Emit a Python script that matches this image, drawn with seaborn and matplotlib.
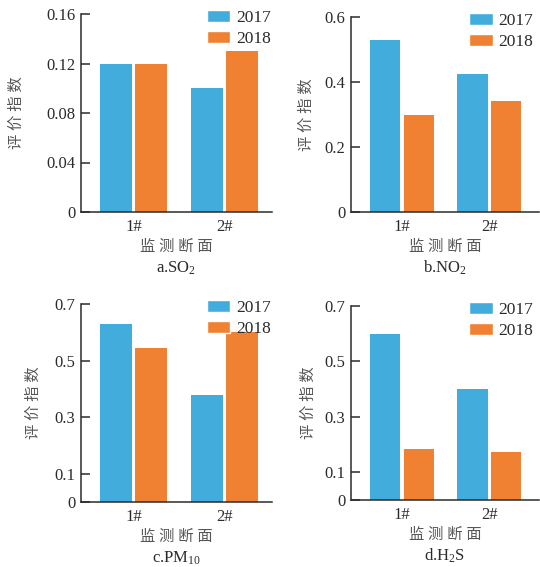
import matplotlib
matplotlib.use("Agg")
import matplotlib.pyplot as plt
from matplotlib.patches import Patch
import seaborn as sns
import pandas as pd

# Monitoring sections and years
sites = ["1#", "2#"]
years = ["2017", "2018"]

# Evaluation index per pollutant (values for sites 1#, 2#)
so2_2017 = [0.12, 0.10]
so2_2018 = [0.12, 0.13]
no2_2017 = [0.53, 0.425]
no2_2018 = [0.30, 0.34]
pm10_2017 = [0.63, 0.38]
pm10_2018 = [0.545, 0.60]
h2s_2017 = [0.60, 0.40]
h2s_2018 = [0.185, 0.175]

# Axis ticks
yticks_so2 = [0, 0.04, 0.08, 0.12, 0.16]
yticks_no2 = [0, 0.2, 0.4, 0.6]
yticks_pm = [0, 0.1, 0.3, 0.5, 0.7]
ytick_labels_so2 = ["0", "0.04", "0.08", "0.12", "0.16"]
ytick_labels_no2 = ["0", "0.2", "0.4", "0.6"]
ytick_labels_pm = ["0", "0.1", "0.3", "0.5", "0.7"]

titles = [r"a.SO$_2$", r"b.NO$_2$", r"c.PM$_{10}$", r"d.H$_2$S"]

BLUE = "#42ACDD"
ORANGE = "#F08133"
INK = "#2b2b2b"
GREY = "#555555"

sns.set_style("white")
plt.rcParams["font.family"] = ["Liberation Serif", "Noto Sans CJK SC"]
plt.rcParams["mathtext.fontset"] = "custom"
plt.rcParams["mathtext.rm"] = "Liberation Serif"
plt.rcParams["mathtext.it"] = "Liberation Serif"

W, H = 540, 567
fig = plt.figure(figsize=(W / 100, H / 100), dpi=100)


def frame(left, top, right, bottom):
    return [left / W, 1 - bottom / H, (right - left) / W, (bottom - top) / H]


panels = [
    dict(box=(81, 14, 272, 212), v17=so2_2017, v18=so2_2018, ylim=0.16,
         yt=yticks_so2, ytl=ytick_labels_so2, xlim=(-0.577, 1.522), ylab=24,
         leg=0.995),
    dict(box=(351, 17, 539, 212), v17=no2_2017, v18=no2_2018, ylim=0.6,
         yt=yticks_no2, ytl=ytick_labels_no2, xlim=(-0.583, 1.566), ylab=314,
         leg=0.97),
    dict(box=(81, 304, 272, 502), v17=pm10_2017, v18=pm10_2018, ylim=0.7,
         yt=yticks_pm, ytl=ytick_labels_pm, xlim=(-0.577, 1.522), ylab=41,
         leg=0.995),
    dict(box=(351, 306, 539, 500), v17=h2s_2017, v18=h2s_2018, ylim=0.7,
         yt=yticks_pm, ytl=ytick_labels_pm, xlim=(-0.583, 1.566), ylab=316,
         leg=0.97),
]

for p, title in zip(panels, titles):
    l, t, r, b = p["box"]
    ax = fig.add_axes(frame(l, t, r, b))
    df = pd.DataFrame({
        "site": sites * 2,
        "year": [years[0]] * 2 + [years[1]] * 2,
        "value": list(p["v17"]) + list(p["v18"]),
    })
    sns.barplot(data=df, x="site", y="value", hue="year", order=sites,
                hue_order=years, palette=[BLUE, ORANGE], saturation=1,
                width=0.77, gap=0.1, legend=False, linewidth=0, ax=ax)

    ax.set_xlim(*p["xlim"])
    ax.set_ylim(0, p["ylim"])
    ax.set_yticks(p["yt"])
    ax.set_yticklabels(p["ytl"], fontsize=12, color=INK)
    ax.set_xticks([0, 1])
    ax.set_xticklabels(sites, fontsize=12, color=INK)
    ax.set_xticks([0.5, p["xlim"][1]], minor=True)
    ax.tick_params(axis="x", which="major", length=0, pad=5)
    ax.tick_params(axis="x", which="minor", direction="in", length=5,
                   width=1.1, color=INK)
    ax.tick_params(axis="y", direction="in", length=6.5, width=1.1,
                   color=INK, pad=4, left=True)

    for side in ("top", "right"):
        ax.spines[side].set_visible(False)
    for side in ("left", "bottom"):
        ax.spines[side].set_color(INK)
        ax.spines[side].set_linewidth(1.1)

    ax.set_xlabel("")
    ax.set_ylabel("评 价 指 数", fontsize=11, color=GREY)
    ax.yaxis.set_label_coords((p["ylab"] - l) / (r - l), 0.5)

    cx = (l + r) / 2 / W
    fig.text(cx, 1 - (b + 35) / H, "监 测 断 面", ha="center", va="center",
             fontsize=11, color=GREY)
    fig.text(cx, 1 - (b + 56) / H, title, ha="center", va="center",
             fontsize=12, color=INK)

    handles = [Patch(facecolor=BLUE), Patch(facecolor=ORANGE)]
    ax.legend(handles, years, loc="upper right", bbox_to_anchor=(p["leg"], 1.02),
              frameon=False, fontsize=12.5, handlelength=1.35,
              handleheight=0.65, handletextpad=0.35, labelspacing=0.3,
              borderpad=0, borderaxespad=0, labelcolor=INK)

fig.savefig("out.png", dpi=100)
